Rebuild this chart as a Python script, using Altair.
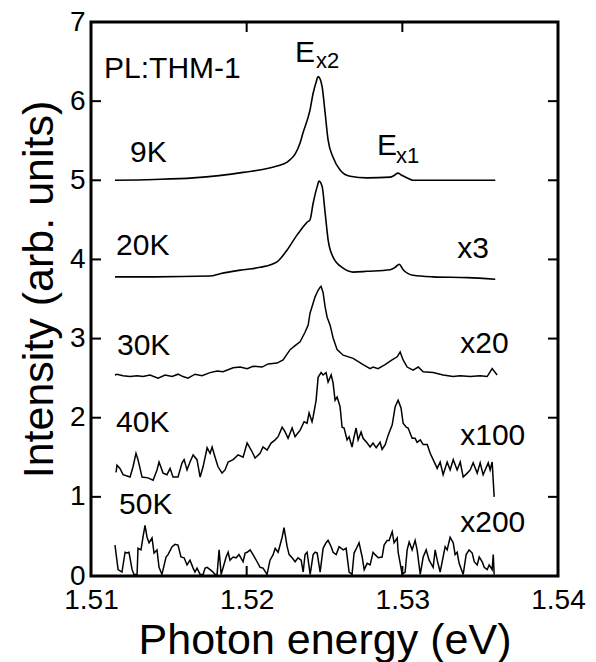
import altair as alt
import pandas as pd

FONT = "Liberation Sans"

# ---------------- data ----------------
E_9K = [1.51154, 1.51405, 1.51656, 1.51977, 1.52195, 1.52260, 1.52279, 1.52311, 1.52343, 1.52362,
        1.52407, 1.52427, 1.52446, 1.52459, 1.52472, 1.52485, 1.52504, 1.52523, 1.52555, 1.52600,
        1.52665, 1.52774, 1.52922, 1.52947, 1.52973, 1.52999, 1.53031, 1.53069, 1.53307, 1.53597]
I_9K = [5.00, 5.01, 5.03, 5.10, 5.18, 5.23, 5.26, 5.33, 5.47, 5.60,
        5.89, 6.10, 6.24, 6.31, 6.28, 6.18, 5.85, 5.51, 5.29, 5.13,
        5.05, 5.03, 5.04, 5.06, 5.09, 5.06, 5.03, 5.00, 5.00, 5.00]

E_20K = [1.51154, 1.51405, 1.51765, 1.51829, 1.51977, 1.52086, 1.52195, 1.52260, 1.52324, 1.52343,
         1.52375, 1.52388, 1.52407, 1.52427, 1.52453, 1.52465, 1.52485, 1.52504, 1.52523, 1.52555,
         1.52620, 1.52684, 1.52774, 1.52922, 1.52954, 1.52980, 1.53005, 1.53069, 1.53198, 1.53417,
         1.53597]
I_20K = [3.78, 3.78, 3.79, 3.82, 3.87, 3.90, 3.97, 4.12, 4.31, 4.36,
         4.44, 4.47, 4.50, 4.71, 4.92, 4.99, 4.92, 4.59, 4.25, 4.03,
         3.89, 3.84, 3.85, 3.87, 3.90, 3.94, 3.87, 3.80, 3.78, 3.77,
         3.75]

E_30K = [1.51154, 1.51167, 1.51206, 1.51251, 1.51296, 1.51334, 1.51379, 1.51431, 1.51476, 1.51521,
         1.51559, 1.51591, 1.51623, 1.51668, 1.51713, 1.51765, 1.51810, 1.51848, 1.51913, 1.51958,
         1.52003, 1.52041, 1.52099, 1.52138, 1.52195, 1.52234, 1.52279, 1.52311, 1.52343, 1.52375,
         1.52395, 1.52407, 1.52440, 1.52459, 1.52472, 1.52478, 1.52491, 1.52504, 1.52517, 1.52536,
         1.52555, 1.52581, 1.52620, 1.52684, 1.52748, 1.52793, 1.52812, 1.52844, 1.52889, 1.52934,
         1.52967, 1.52986, 1.53005, 1.53031, 1.53069, 1.53102, 1.53134, 1.53198, 1.53262, 1.53326,
         1.53371, 1.53436, 1.53500, 1.53545, 1.53577, 1.53609]
I_30K = [2.54, 2.55, 2.53, 2.52, 2.53, 2.52, 2.54, 2.50, 2.54, 2.52,
         2.55, 2.52, 2.50, 2.55, 2.53, 2.57, 2.59, 2.58, 2.63, 2.64,
         2.62, 2.65, 2.64, 2.68, 2.69, 2.73, 2.86, 2.91, 2.96, 3.08,
         3.17, 3.32, 3.53, 3.61, 3.65, 3.66, 3.58, 3.40, 3.27, 3.17,
         3.01, 2.86, 2.79, 2.75, 2.67, 2.62, 2.64, 2.62, 2.67, 2.73,
         2.77, 2.83, 2.73, 2.64, 2.60, 2.64, 2.58, 2.57, 2.54, 2.52,
         2.53, 2.52, 2.53, 2.52, 2.62, 2.54]

E_40K = [1.51161, 1.51167, 1.51186, 1.51206, 1.51251, 1.51270, 1.51289, 1.51302, 1.51328, 1.51366,
         1.51399, 1.51424, 1.51437, 1.51463, 1.51488, 1.51508, 1.51527, 1.51559, 1.51585, 1.51598,
         1.51617, 1.51636, 1.51656, 1.51681, 1.51701, 1.51720, 1.51746, 1.51765, 1.51778, 1.51797,
         1.51816, 1.51842, 1.51861, 1.51881, 1.51913, 1.51945, 1.51977, 1.52003, 1.52035, 1.52054,
         1.52086, 1.52105, 1.52131, 1.52157, 1.52183, 1.52202, 1.52228, 1.52247, 1.52266, 1.52292,
         1.52311, 1.52330, 1.52343, 1.52369, 1.52388, 1.52401, 1.52420, 1.52427, 1.52446, 1.52459,
         1.52478, 1.52491, 1.52510, 1.52523, 1.52543, 1.52555, 1.52568, 1.52581, 1.52600, 1.52613,
         1.52626, 1.52645, 1.52658, 1.52677, 1.52690, 1.52703, 1.52716, 1.52735, 1.52748, 1.52774,
         1.52793, 1.52812, 1.52832, 1.52857, 1.52870, 1.52890, 1.52909, 1.52935, 1.52954, 1.52973,
         1.52992, 1.53005, 1.53025, 1.53037, 1.53063, 1.53082, 1.53095, 1.53115, 1.53134, 1.53160,
         1.53179, 1.53198, 1.53224, 1.53243, 1.53262, 1.53288, 1.53307, 1.53327, 1.53352, 1.53372,
         1.53391, 1.53417, 1.53436, 1.53455, 1.53481, 1.53500, 1.53519, 1.53532, 1.53552, 1.53564,
         1.53577, 1.53590]
I_40K = [1.31, 1.40, 1.36, 1.28, 1.25, 1.38, 1.55, 1.47, 1.25, 1.24,
         1.21, 1.34, 1.44, 1.30, 1.28, 1.36, 1.25, 1.25, 1.43, 1.47,
         1.34, 1.44, 1.53, 1.47, 1.25, 1.38, 1.62, 1.55, 1.63, 1.50,
         1.38, 1.30, 1.34, 1.44, 1.47, 1.53, 1.50, 1.68, 1.57, 1.49,
         1.55, 1.63, 1.59, 1.68, 1.72, 1.76, 1.88, 1.82, 1.74, 1.87,
         1.76, 1.81, 1.84, 1.95, 1.93, 2.06, 1.95, 2.01, 2.22, 2.51,
         2.57, 2.54, 2.57, 2.45, 2.54, 2.44, 2.22, 2.26, 2.14, 1.88,
         1.87, 1.72, 1.76, 1.63, 1.76, 1.87, 1.72, 1.82, 1.74, 1.68,
         1.63, 1.68, 1.62, 1.69, 1.60, 1.66, 1.78, 1.91, 2.14, 2.22,
         2.12, 1.93, 1.88, 1.87, 1.74, 1.74, 1.69, 1.72, 1.66, 1.66,
         1.55, 1.47, 1.36, 1.44, 1.28, 1.44, 1.34, 1.47, 1.34, 1.44,
         1.25, 1.30, 1.34, 1.43, 1.30, 1.43, 1.28, 1.34, 1.43, 1.34,
         1.44, 1.00]

E_50K = [1.51154, 1.51174, 1.51199, 1.51219, 1.51231, 1.51244, 1.51264, 1.51276, 1.51296, 1.51302,
         1.51321, 1.51334, 1.51347, 1.51360, 1.51373, 1.51392, 1.51405, 1.51424, 1.51437, 1.51456,
         1.51463, 1.51482, 1.51495, 1.51521, 1.51540, 1.51559, 1.51578, 1.51598, 1.51617, 1.51636,
         1.51656, 1.51668, 1.51681, 1.51701, 1.51720, 1.51733, 1.51746, 1.51765, 1.51784, 1.51797,
         1.51810, 1.51823, 1.51836, 1.51848, 1.51868, 1.51881, 1.51893, 1.51913, 1.51932, 1.51951,
         1.51977, 1.51990, 1.52003, 1.52022, 1.52041, 1.52067, 1.52086, 1.52105, 1.52131, 1.52150,
         1.52170, 1.52183, 1.52202, 1.52228, 1.52240, 1.52260, 1.52273, 1.52292, 1.52311, 1.52330,
         1.52350, 1.52363, 1.52375, 1.52388, 1.52408, 1.52427, 1.52440, 1.52453, 1.52472, 1.52491,
         1.52510, 1.52523, 1.52543, 1.52555, 1.52575, 1.52594, 1.52620, 1.52639, 1.52658, 1.52677,
         1.52690, 1.52710, 1.52722, 1.52742, 1.52755, 1.52774, 1.52793, 1.52812, 1.52825, 1.52845,
         1.52870, 1.52883, 1.52902, 1.52915, 1.52935, 1.52947, 1.52967, 1.52973, 1.52999, 1.53018,
         1.53031, 1.53044, 1.53063, 1.53082, 1.53095, 1.53115, 1.53134, 1.53153, 1.53172, 1.53198,
         1.53211, 1.53224, 1.53243, 1.53262, 1.53275, 1.53288, 1.53307, 1.53327, 1.53339, 1.53352,
         1.53365, 1.53391, 1.53410, 1.53429, 1.53449, 1.53462, 1.53481, 1.53494, 1.53513, 1.53526,
         1.53545, 1.53558, 1.53577, 1.53584, 1.53590]
I_50K = [0.39, 0.08, 0.05, 0.30, 0.29, 0.30, 0.08, 0.02, 0.02, 0.35,
         0.33, 0.49, 0.64, 0.49, 0.42, 0.48, 0.29, 0.33, 0.11, 0.02,
         0.08, 0.24, 0.27, 0.37, 0.40, 0.39, 0.24, 0.23, 0.14, 0.20,
         0.10, 0.05, 0.10, 0.02, 0.02, 0.10, 0.11, 0.08, 0.05, 0.02,
         0.02, 0.33, 0.02, 0.10, 0.24, 0.30, 0.20, 0.24, 0.23, 0.27,
         0.18, 0.29, 0.30, 0.33, 0.27, 0.18, 0.11, 0.10, 0.02, 0.20,
         0.27, 0.35, 0.30, 0.49, 0.61, 0.37, 0.27, 0.23, 0.18, 0.23,
         0.20, 0.05, 0.27, 0.30, 0.02, 0.27, 0.30, 0.29, 0.05, 0.35,
         0.42, 0.45, 0.37, 0.30, 0.27, 0.37, 0.33, 0.35, 0.05, 0.02,
         0.29, 0.37, 0.42, 0.24, 0.08, 0.16, 0.14, 0.30, 0.27, 0.23,
         0.24, 0.39, 0.45, 0.45, 0.56, 0.42, 0.48, 0.30, 0.02, 0.05,
         0.33, 0.43, 0.33, 0.45, 0.33, 0.02, 0.24, 0.33, 0.20, 0.11,
         0.33, 0.20, 0.05, 0.24, 0.37, 0.33, 0.49, 0.42, 0.27, 0.30,
         0.16, 0.02, 0.27, 0.33, 0.29, 0.18, 0.14, 0.24, 0.18, 0.11,
         0.08, 0.14, 0.08, 0.27, 0.02]

# annotations (text, anchor energy, anchor intensity)
ann_text = ["PL:THM-1", "9K", "20K", "30K", "40K", "50K", "x3", "x20", "x100", "x200"]
ann_E = [1.51084, 1.51251, 1.51161, 1.51167, 1.51161, 1.51180, 1.53352, 1.53372, 1.53372, 1.53372]
ann_I = [6.29, 5.23, 4.06, 2.79, 1.82, 0.78, 4.02, 2.82, 1.66, 0.56]

peak_main = ["E", "E"]
peak_main_E = [1.52311, 1.52838]
peak_main_I = [6.49, 5.32]
peak_sub = ["x2", "x1"]
peak_sub_E = [1.52446, 1.52960]
peak_sub_I = [6.42, 5.22]

x_ticks = [1.51, 1.52, 1.53, 1.54]
y_ticks = [0, 1, 2, 3, 4, 5, 6, 7]
x_inner_ticks = [1.52, 1.53]
y_inner_ticks = [1, 2, 3, 4, 5, 6]

# ---------------- tables ----------------
rows = []
for name, es, vs in [("9K", E_9K, I_9K), ("20K", E_20K, I_20K), ("30K", E_30K, I_30K),
                     ("40K", E_40K, I_40K), ("50K", E_50K, I_50K)]:
    for e, v in zip(es, vs):
        rows.append({"series": name, "E": e, "I": v})
spec_df = pd.DataFrame(rows)
smooth_df = spec_df[spec_df.series.isin(["9K", "20K"])]
noisy_df = spec_df[~spec_df.series.isin(["9K", "20K"])]

ann_df = pd.DataFrame({"t": ann_text, "E": ann_E, "I": ann_I})
pm_df = pd.DataFrame({"t": peak_main, "E": peak_main_E, "I": peak_main_I})
ps_df = pd.DataFrame({"t": peak_sub, "E": peak_sub_E, "I": peak_sub_I})
xt_df = pd.DataFrame({"E": x_inner_ticks})
yt_df = pd.DataFrame({"I": y_inner_ticks})

W, H = 467, 554
xs = alt.Scale(domain=[1.51, 1.54], nice=False, zero=False)
ys = alt.Scale(domain=[0, 7], nice=False, zero=False)

x_axis = alt.Axis(values=x_ticks, format=".2f", title="Photon energy (eV)", grid=False,
                  ticks=False, domain=False, labelFontSize=28, labelFont=FONT, labelColor="black",
                  labelFlush=False, labelOverlap=False, labelBaseline="alphabetic", labelPadding=32,
                  titleFontSize=43, titleFont=FONT, titleFontWeight="normal", titleColor="black",
                  titleBaseline="alphabetic", titleY=77)
y_axis = alt.Axis(values=y_ticks, format="d", title="Intensity (arb. units)", grid=False,
                  ticks=False, domain=False, labelFontSize=28, labelFont=FONT, labelColor="black",
                  labelPadding=6, labelOverlap=False,
                  titleFontSize=43, titleFont=FONT, titleFontWeight="normal", titleColor="black",
                  titleAngle=-90, titleBaseline="alphabetic", titleAlign="center",
                  titleX=-39, titleY=267)

base_x = alt.X("E:Q", scale=xs, axis=x_axis)
base_y = alt.Y("I:Q", scale=ys, axis=y_axis)

smooth = alt.Chart(smooth_df).mark_line(color="black", strokeWidth=1.6, interpolate="monotone").encode(
    x=base_x, y=base_y, detail="series:N")
noisy = alt.Chart(noisy_df).mark_line(color="black", strokeWidth=1.5).encode(
    x=alt.X("E:Q", scale=xs), y=alt.Y("I:Q", scale=ys), detail="series:N")

ann = alt.Chart(ann_df).mark_text(font=FONT, fontSize=30, align="left", baseline="alphabetic",
                                  color="black").encode(
    x=alt.X("E:Q", scale=xs), y=alt.Y("I:Q", scale=ys), text="t:N")
pm = alt.Chart(pm_df).mark_text(font=FONT, fontSize=30, align="left", baseline="alphabetic",
                                color="black").encode(
    x=alt.X("E:Q", scale=xs), y=alt.Y("I:Q", scale=ys), text="t:N")
ps = alt.Chart(ps_df).mark_text(font=FONT, fontSize=22, align="left", baseline="alphabetic",
                                color="black").encode(
    x=alt.X("E:Q", scale=xs), y=alt.Y("I:Q", scale=ys), text="t:N")

tick_style = dict(color="black", strokeWidth=2)
bt = alt.Chart(xt_df).mark_rule(**tick_style).encode(
    x=alt.X("E:Q", scale=xs), y=alt.value(H), y2=alt.value(H - 10))
tt = alt.Chart(xt_df).mark_rule(**tick_style).encode(
    x=alt.X("E:Q", scale=xs), y=alt.value(0), y2=alt.value(10))
lt = alt.Chart(yt_df).mark_rule(**tick_style).encode(
    y=alt.Y("I:Q", scale=ys), x=alt.value(0), x2=alt.value(10))
rt = alt.Chart(yt_df).mark_rule(**tick_style).encode(
    y=alt.Y("I:Q", scale=ys), x=alt.value(W), x2=alt.value(W - 10))

chart = alt.layer(smooth, noisy, ann, pm, ps, bt, tt, lt, rt).properties(
    width=W, height=H,
    autosize=alt.AutoSizeParams(type="none"),
    padding={"left": 91, "top": 22, "right": 38, "bottom": 86},
    background="white",
).configure_view(stroke="black", strokeWidth=3)

chart.save("out.html", embed_options={"renderer": "svg", "actions": False})
